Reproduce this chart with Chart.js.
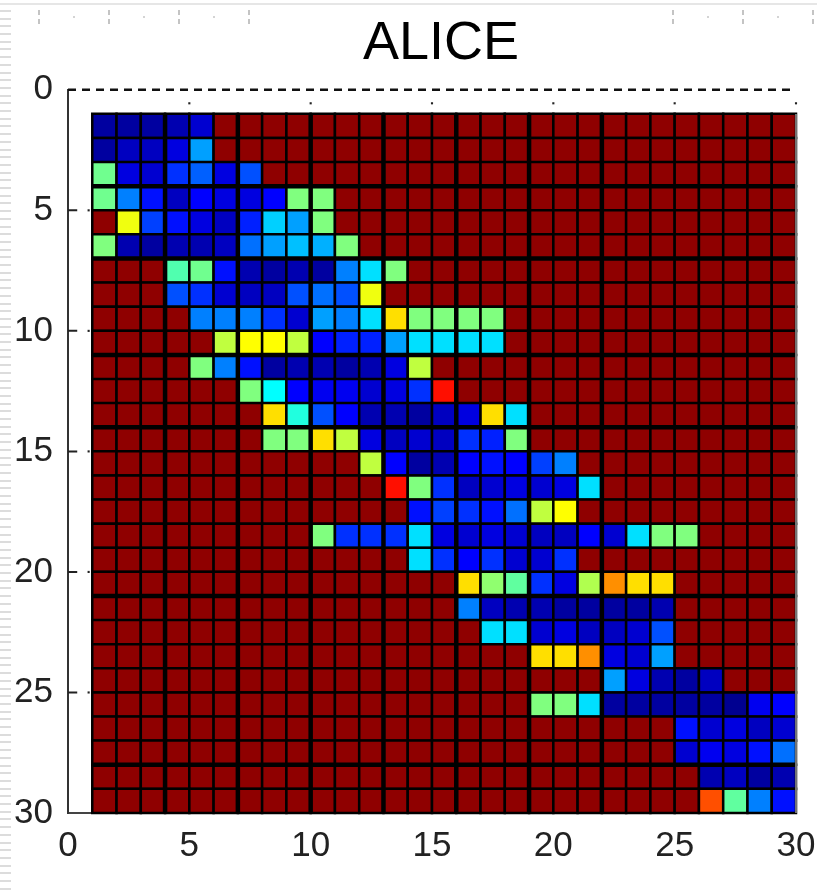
<!DOCTYPE html>
<html>
<head>
<meta charset="utf-8">
<title>ALICE</title>
<script src="https://cdn.jsdelivr.net/npm/chart.js@4"></script>
<style>
  html, body { margin: 0; padding: 0; background: #fff; }
  #wrap { position: relative; width: 817px; height: 895px; overflow: hidden; }
  #chart { position: absolute; left: 0; top: 0; }
  .topline { position: absolute; left: 0; top: 3px; width: 817px; height: 2px; background: #e6e6e6; }
  .stripes { position: absolute; left: 0; top: 10px; width: 11px; height: 885px;
    background: repeating-linear-gradient(to bottom, #dcdcdc 0, #dcdcdc 2px, #fff 2px, #fff 7.7px); }
  .ruler { position: absolute; top: 10px; height: 14px;
    background:
      repeating-linear-gradient(to right, #c4c4c4 0, #c4c4c4 2px, transparent 2px, transparent 70px) 0 0 / 100% 5px no-repeat,
      repeating-linear-gradient(to right, #c4c4c4 0, #c4c4c4 2px, transparent 2px, transparent 70px) 0 9px / 100% 5px no-repeat,
      repeating-linear-gradient(to right, transparent 0, transparent 35px, #d4d4d4 35px, #d4d4d4 37px, transparent 37px, transparent 70px) 0 6px / 100% 2px no-repeat; }
  .ruler.left { left: 38px; width: 212px; }
  .ruler.right { left: 672px; width: 145px; }
</style>
</head>
<body>
<div id="wrap">
  <div class="topline"></div>
  <div class="stripes"></div>
  <div class="ruler left"></div>
  <div class="ruler right"></div>
  <canvas id="chart" width="817" height="895"></canvas>
</div>
<script>
  const titleText = 'ALICE';
  const axisTicks = [0, 5, 10, 15, 20, 25, 30];
  const firstIndex = 1;
  const lastIndex = 30;
  const backgroundLevel = 63; // dark red, every cell outside the band

  // first column of the coloured band in each row
  const bandStart = [1, 1, 1, 1, 1, 1, 4, 4, 5, 6, 5, 7, 8, 8, 12, 13, 13, 10, 14, 16, 16, 17, 19, 22, 19, 25, 25, 26, 26];

  // jet levels (1 navy .. 32 green .. 40 yellow .. 56 red .. 63 dark red)
  const bandLevels = [
    [2, 2, 2, 3, 5],
    [2, 4, 4, 6, 18],
    [31, 6, 5, 11, 14, 6, 13],
    [31, 16, 9, 4, 8, 6, 6, 8, 32, 32],
    [63, 39, 12, 9, 6, 4, 10, 21, 18, 32],
    [32, 3, 2, 3, 3, 4, 15, 18, 20, 19, 32],
    [29, 31, 9, 3, 2, 3, 2, 16, 22, 32],
    [13, 11, 5, 4, 4, 13, 15, 13, 39],
    [16, 16, 16, 11, 5, 18, 16, 22, 42, 32, 32, 32, 32],
    [36, 40, 40, 36, 8, 10, 10, 18, 22, 22, 22, 22],
    [32, 16, 9, 2, 3, 3, 2, 3, 6, 36],
    [32, 24, 8, 7, 7, 5, 6, 11, 55],
    [42, 26, 13, 8, 3, 3, 2, 4, 6, 42, 22],
    [32, 32, 42, 36, 6, 4, 5, 4, 11, 10, 32],
    [36, 8, 2, 3, 8, 9, 8, 12, 16],
    [55, 32, 11, 4, 5, 6, 5, 6, 22],
    [63, 9, 12, 11, 9, 15, 36, 40],
    [32, 11, 11, 11, 22, 6, 5, 6, 5, 4, 4, 8, 5, 22, 32, 32],
    [22, 11, 8, 11, 5, 5, 11],
    [42, 33, 30, 11, 6, 35, 47, 42, 42],
    [16, 4, 3, 3, 2, 2, 2, 2, 3],
    [22, 22, 5, 6, 4, 4, 5, 13],
    [42, 42, 47, 6, 5, 18],
    [18, 6, 3, 2, 4],
    [32, 32, 22, 2, 2, 2, 2, 2, 1, 7, 8],
    [9, 5, 6, 4, 5],
    [5, 7, 6, 9, 15],
    [3, 4, 2, 3],
    [51, 30, 16, 9]
  ];

  const thickColumns = [4, 7, 10, 13, 16, 19, 22];
  const thickRows = [4, 7, 11, 14, 21, 28];

  function clamp(x) { return Math.max(0, Math.min(255, Math.round(x))); }

  function jetColor(level) {
    let r, g, b;
    r = level < 24 ? 0 : level < 40 ? (level - 24) * 16 : level < 56 ? 255 : 255 - (level - 56) * 16;
    g = level < 8 ? 0 : level < 24 ? (level - 8) * 16 : level < 40 ? 255 : level < 56 ? 255 - (level - 40) * 16 : 0;
    b = level < 8 ? 128 + level * 16 : level < 24 ? 255 : level < 40 ? 255 - (level - 24) * 16 : 0;
    return `rgb(${clamp(r)},${clamp(g)},${clamp(b)})`;
  }

  // one point per cell, sitting in the middle of it
  const cells = [];
  for (let row = firstIndex; row < lastIndex; row++) {
    for (let col = firstIndex; col < lastIndex; col++) {
      const band = bandLevels[row - 1];
      const offset = col - bandStart[row - 1];
      const level = offset >= 0 && offset < band.length ? band[offset] : backgroundLevel;
      cells.push({ x: col + 0.5, y: row + 0.5, level });
    }
  }

  const gap = { x: NaN, y: NaN };
  const thickLines = [];
  thickColumns.forEach(c => thickLines.push({ x: c, y: firstIndex }, { x: c, y: lastIndex }, gap));
  thickRows.forEach(r => thickLines.push({ x: firstIndex, y: r }, { x: lastIndex, y: r }, gap));

  const leftTicks = [];
  axisTicks.slice(1, -1).forEach(t => leftTicks.push({ x: 0, y: t }, { x: 0.38, y: t }, gap));
  const leftDots = axisTicks.slice(1, -1).map(t => ({ x: 0.85, y: t }));
  const topDots = axisTicks.slice(1).map(t => ({ x: t, y: 0.56 }));

  const lineSet = (data, color, width, extra) => Object.assign({
    data, showLine: true, pointRadius: 0, borderColor: color, borderWidth: width, clip: false
  }, extra);

  const tickFont = { family: '"Liberation Sans", Arial, sans-serif', size: 35 };

  // the reference title sits right of the canvas centre
  const titleShift = {
    id: 'titleShift',
    afterLayout(chart) { chart.titleBlock.left = 65; chart.titleBlock.right = 817; }
  };

  new Chart(document.getElementById('chart'), {
    type: 'scatter',
    plugins: [titleShift],
    data: {
      datasets: [
        lineSet([{ x: 0, y: 0 }, { x: 30, y: 0 }], '#111', 2.5, { borderDash: [8, 6] }),
        lineSet([{ x: 30, y: 1 }, { x: 30, y: 30 }], '#999', 1.5),
        lineSet(leftTicks, '#222', 2),
        { data: leftDots, pointStyle: 'rect', pointRadius: 1.5, backgroundColor: '#222', borderWidth: 0, clip: false },
        { data: topDots, pointStyle: 'rect', pointRadius: 1.5, backgroundColor: '#222', borderWidth: 0, clip: false },
        lineSet(thickLines, '#000', 4.5),
        {
          data: cells,
          pointStyle: 'rect',
          pointRadius: c => (c.chart.scales.x.width / 30 / 2) / Math.SQRT1_2,
          backgroundColor: c => jetColor(c.raw.level),
          borderColor: '#000',
          borderWidth: 2.5,
          clip: false
        }
      ]
    },
    options: {
      responsive: false,
      animation: false,
      events: [],
      layout: { padding: { top: 0, right: 21, bottom: 0, left: 0 } },
      plugins: {
        legend: { display: false },
        tooltip: { enabled: false },
        title: {
          display: true,
          text: titleText,
          color: '#000',
          font: { family: '"Liberation Sans", Arial, sans-serif', size: 54, weight: 'normal' },
          padding: { top: 12, bottom: 13 }
        }
      },
      scales: {
        x: {
          type: 'linear',
          min: 0,
          max: 30,
          afterFit: s => { s.height = 82; s.paddingRight = 0; s.paddingLeft = 0; },
          afterBuildTicks: s => { s.ticks = axisTicks.map(value => ({ value })); },
          grid: { display: false },
          border: { display: true, color: '#444', width: 2 },
          ticks: { color: '#222', font: tickFont, padding: 4, maxRotation: 0, autoSkip: false }
        },
        y: {
          type: 'linear',
          reverse: true,
          min: 0,
          max: 30,
          afterFit: s => { s.width = 68; s.paddingTop = 0; s.paddingBottom = 0; },
          afterBuildTicks: s => { s.ticks = axisTicks.map(value => ({ value })); },
          grid: { display: false },
          border: { display: true, color: '#333', width: 2 },
          ticks: { color: '#222', font: tickFont, padding: 7, autoSkip: false }
        }
      }
    }
  });
</script>
</body>
</html>
